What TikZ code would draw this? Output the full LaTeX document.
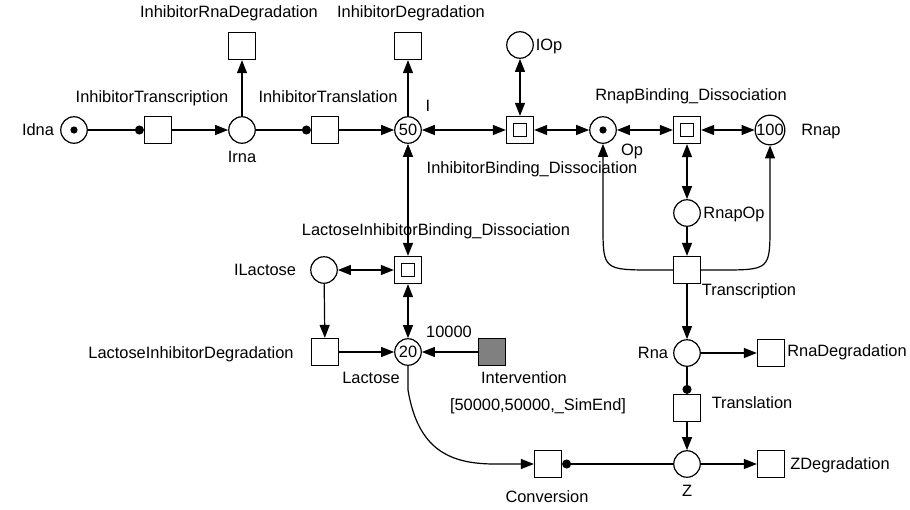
\documentclass[tikz,border=0pt]{standalone}
\usepackage{fontspec}
\setmainfont{Liberation Sans}
\usetikzlibrary{arrows.meta}
\definecolor{intgray}{RGB}{128,128,128}
\begin{document}
\begin{tikzpicture}[x=1pt,y=-1pt,line width=1.2pt,
  txt/.style={font=\fontsize{16.4}{18}\selectfont},
  place/.style={circle,draw,minimum size=26.5pt,inner sep=0pt,txt},
  token/.style={place,path picture={\fill (path picture bounding box.center) circle (3.6pt);}},
  trans/.style={rectangle,draw,minimum size=27pt,inner sep=0pt},
  bind/.style={trans,path picture={\draw[line width=1pt] ([shift={(-6.5pt,-6.5pt)}]path picture bounding box.center) rectangle ([shift={(6.5pt,6.5pt)}]path picture bounding box.center);}},
  lbl/.style={txt,inner sep=0pt,text height=11.5pt,text depth=0pt},
  arr/.style={-{Triangle[length=13pt,width=10pt]}},
  darr/.style={{Triangle[length=13pt,width=10pt]}-{Triangle[length=13pt,width=10pt]}},
  dot/.style={-{Circle[length=9pt]}}]
\useasboundingbox (0,0) rectangle (910,509);
% places
\node[token] (idna) at (74,130) {};
\node[place] (irna) at (242,130) {};
\node[place] (I) at (408,130) {50};
\node[place] (iop) at (520,45) {};
\node[token] (op) at (603,130) {};
\node[place] (rnap) at (770,130) {100};
\node[place] (rnapop) at (687,213) {};
\node[place] (ilac) at (324,270) {};
\node[place] (lac) at (408,352) {20};
\node[place] (rna) at (687,353) {};
\node[place] (z) at (687,464) {};
% transitions
\node[trans] (itx) at (158,130) {};
\node[trans] (ird) at (242,46) {};
\node[trans] (itl) at (325,130) {};
\node[trans] (idg) at (408,46) {};
\node[bind] (ibd) at (520,130) {};
\node[bind] (rbd) at (687,130) {};
\node[trans] (tsc) at (687,270) {};
\node[bind] (libd) at (408,270) {};
\node[trans] (lidg) at (325,352) {};
\node[trans,fill=intgray] (intv) at (492,352) {};
\node[trans] (rnadg) at (771,353) {};
\node[trans] (tsl) at (687,408) {};
\node[trans] (zdg) at (771,464) {};
\node[trans] (conv) at (548,464) {};
% labels
\node[lbl] (l1) at (38,130) {Idna};
\node[lbl] (l2) at (152,97) {InhibitorTranscription};
\node[lbl] (l3) at (229,12) {InhibitorRnaDegradation};
\node[lbl] (l4) at (411,12) {InhibitorDegradation};
\node[lbl] (l5) at (328,97) {InhibitorTranslation};
\node[lbl] (l6) at (242,157) {Irna};
\node[lbl] (l7) at (428,106) {I};
\node[lbl] (l8) at (549,45) {IOp};
\node[lbl] (l9) at (532,168) {InhibitorBinding\_Dissociation};
\node[lbl] (l10) at (632,150) {Op};
\node[lbl] (l11) at (691,95) {RnapBinding\_Dissociation};
\node[lbl] (l12) at (821,130) {Rnap};
\node[lbl] (l13) at (734,213) {RnapOp};
\node[lbl] (l14) at (749,290) {Transcription};
\node[lbl] (l15) at (436,230) {LactoseInhibitorBinding\_Dissociation};
\node[lbl] (l16) at (265,270) {ILactose};
\node[lbl] (l17) at (191,353) {LactoseInhibitorDegradation};
\node[lbl] (l18) at (449,332) {10000};
\node[lbl] (l19) at (371,378) {Lactose};
\node[lbl] (l20) at (524,378) {Intervention};
\node[lbl] (l21) at (538,405) {[50000,50000,\_SimEnd]};
\node[lbl] (l22) at (653,353) {Rna};
\node[lbl] (l23) at (847,351) {RnaDegradation};
\node[lbl] (l24) at (752,403) {Translation};
\node[lbl] (l25) at (840,464) {ZDegradation};
\node[lbl] (l26) at (687,491) {Z};
\node[lbl] (l27) at (547,497) {Conversion};
% arcs
\draw[dot] (idna) -- (itx);
\draw[arr] (itx) -- (irna);
\draw[arr] (irna) -- (ird);
\draw[dot] (irna) -- (itl);
\draw[arr] (itl) -- (I);
\draw[arr] (I) -- (idg);
\draw[darr] (I) -- (ibd);
\draw[darr] (iop) -- (ibd);
\draw[darr] (ibd) -- (op);
\draw[darr] (op) -- (rbd);
\draw[darr] (rbd) -- (rnap);
\draw[darr] (rbd) -- (rnapop);
\draw[arr] (rnapop) -- (tsc);
\draw[arr] (tsc.west) -- (655,270) .. controls (603,270) .. (603,225) -- (op.south);
\draw[arr] (tsc.east) -- (719,270) .. controls (770,270) .. (770,225) -- (rnap.south);
\draw[arr] (tsc) -- (rna);
\draw[arr] (rna) -- (rnadg);
\draw[dot] (rna) -- (tsl);
\draw[arr] (tsl) -- (z);
\draw[arr] (z) -- (zdg);
\draw[dot] (z) -- (conv);
\draw[arr] (lac.south) -- (408,390) .. controls (418,450) and (450,464) .. (495,464) -- (conv.west);
\draw[darr] (I) -- (libd);
\draw[darr] (ilac) -- (libd);
\draw[darr] (libd) -- (lac);
\draw[arr] (ilac) -- (lidg);
\draw[arr] (lidg) -- (lac);
\draw[arr] (intv) -- (lac);
\end{tikzpicture}
\end{document}
